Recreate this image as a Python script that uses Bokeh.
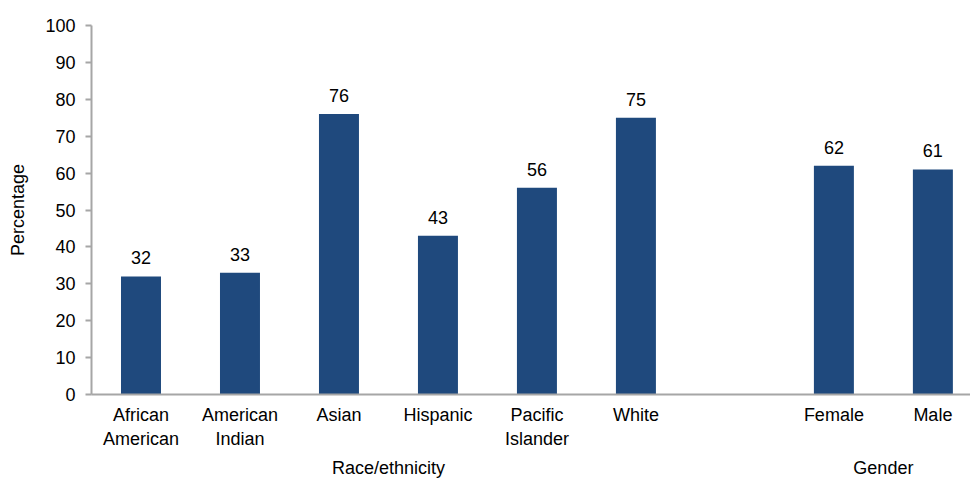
from bokeh.plotting import figure
from bokeh.models import Range1d, FixedTicker, ColumnDataSource, LabelSet, LinearAxis
from bokeh.core.properties import value
from bokeh.embed import file_html
from bokeh.resources import INLINE

categories = ["African\nAmerican", "American\nIndian", "Asian", "Hispanic",
              "Pacific\nIslander", "White", "Female", "Male"]
values = [32, 33, 76, 43, 56, 75, 62, 61]
positions = [0.5, 1.5, 2.5, 3.5, 4.5, 5.5, 7.5, 8.5]
groups = ["Race/ethnicity", "Gender"]
group_pos = [3.0, 8.0]
y_ticks = list(range(0, 101, 10))

FONT = "Liberation Sans"
FS = "18px"
BAR = "#1F497D"
AXIS = "#A6A6A6"

p = figure(width=970, height=482, output_backend="svg", toolbar_location=None,
           x_range=Range1d(0, 8.88), y_range=Range1d(0, 100),
           min_border_left=91, min_border_right=0, min_border_top=25, min_border_bottom=88)
p.outline_line_color = None
p.grid.visible = False

src = ColumnDataSource(dict(x=positions, top=values, lab=[str(v) for v in values]))
p.vbar(x="x", top="top", width=0.404, source=src, fill_color=BAR, line_color=None)
p.add_layout(LabelSet(x="x", y="top", text="lab", source=src, text_align="center",
                      text_baseline="bottom", y_offset=12, text_font=value(FONT),
                      text_font_size=value(FS), text_color="#000000"))

# y axis
ya = p.yaxis[0]
ya.ticker = FixedTicker(ticks=y_ticks)
ya.axis_line_color = AXIS
ya.axis_line_width = 2
ya.major_tick_line_color = AXIS
ya.major_tick_line_width = 2
ya.major_tick_out = 6
ya.major_tick_in = 0
ya.minor_tick_line_color = None
ya.major_label_text_font = FONT
ya.major_label_text_font_size = FS
ya.major_label_text_color = "#000000"
ya.major_label_standoff = 10
ya.axis_label = "Percentage"
ya.axis_label_text_font = FONT
ya.axis_label_text_font_size = FS
ya.axis_label_text_font_style = "normal"
ya.axis_label_text_color = "#000000"
ya.axis_label_standoff = 14

# x axis
xa = p.xaxis[0]
xa.ticker = FixedTicker(ticks=positions)
xa.major_label_overrides = {pos: c for pos, c in zip(positions, categories)}
xa.axis_line_color = AXIS
xa.axis_line_width = 2
xa.major_tick_line_color = None
xa.minor_tick_line_color = None
xa.major_label_text_font = FONT
xa.major_label_text_font_size = FS
xa.major_label_text_color = "#000000"
xa.major_label_standoff = 4

# group labels as a second axis
ga = LinearAxis(ticker=FixedTicker(ticks=group_pos),
                major_label_overrides={gx: g for gx, g in zip(group_pos, groups)})
ga.axis_line_color = None
ga.major_tick_line_color = None
ga.minor_tick_line_color = None
ga.major_label_text_font = FONT
ga.major_label_text_font_size = FS
ga.major_label_text_color = "#000000"
ga.major_label_standoff = 0
p.add_layout(ga, "below")

open("out.html", "w").write(file_html(p, INLINE))
